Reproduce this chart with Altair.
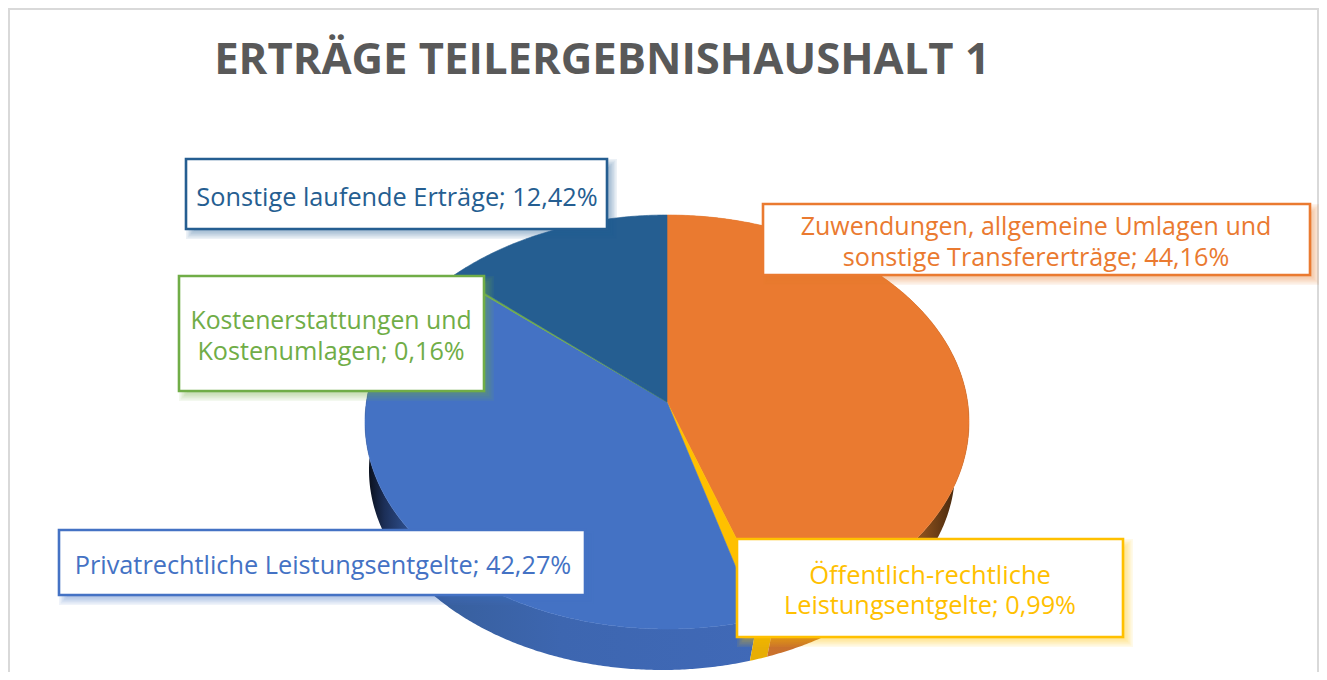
import math
import altair as alt

# ---- values ----
names = ["Zuwendungen, allgemeine Umlagen und sonstige Transfererträge",
         "Öffentlich-rechtliche Leistungsentgelte",
         "Privatrechtliche Leistungsentgelte",
         "Kostenerstattungen und Kostenumlagen",
         "Sonstige laufende Erträge"]
shares = [44.16, 0.99, 42.27, 0.16, 12.42]
colors = ["#EA7A30", "#FFC000", "#4472C4", "#70AD47", "#255E91"]

title_text = "ERTRÄGE TEILERGEBNISHAUSHALT 1"
label_lines = [
    ["Zuwendungen,  allgemeine Umlagen und", "sonstige Transfererträge; 44,16%"],
    ["Öffentlich-rechtliche", "Leistungsentgelte; 0,99%"],
    ["Privatrechtliche Leistungsentgelte; 42,27%"],
    ["Kostenerstattungen und", "Kostenumlagen; 0,16%"],
    ["Sonstige laufende Erträge; 12,42%"],
]
# ---- layout (page pixels) ----
OX, OY = 8, 8
W, H = 1311, 664
boxes = [(763, 204, 1310, 275), (737, 539, 1123, 637), (59, 530, 585, 595),
         (179, 276, 484, 391), (186, 159, 607, 229)]
line_y = [[227, 258], [576, 606], [566], [322, 352], [197.5]]
line_x = [1036, 930, 323, 331, 397]
line_size = [[25, 25.2], [25.5, 25.3], [25.3], [24.8, 25.2], [25.3]]

APEX = (667, 402)
TOP = (667, 422, 302, 207)
BOT = (662, 470, 293, 200)


def rim(e, t0, t1):
    n = max(2, int(abs(t1 - t0)) * 2)
    out = []
    for i in range(n + 1):
        t = math.radians(t0 + (t1 - t0) * i / n)
        out.append([e[0] + e[2] * math.sin(t) - OX, e[1] - e[3] * math.cos(t) - OY])
    return out


def feature(ring, **props):
    ring = list(ring) + [ring[0]]
    return {"type": "Feature", "properties": props,
            "geometry": {"type": "Polygon", "coordinates": [ring]}}


def rect(x0, y0, x1, y1):
    return [[x0 - OX, y0 - OY], [x1 - OX, y0 - OY], [x1 - OX, y1 - OY], [x0 - OX, y1 - OY]]


spans = []
acc = 0.0
for s in shares:
    spans.append((acc * 3.6, (acc + s) * 3.6))
    acc += s

tops = [feature([[APEX[0] - OX, APEX[1] - OY]] + rim(TOP, a, b), color=c)
        for (a, b), c in zip(spans, colors)]
walls = [feature(rim(TOP, a, b) + rim(BOT, b, a)) for a, b in spans]


def geo(feats, **kw):
    return alt.Chart(alt.Data(values=feats)).mark_geoshape(**kw).project(
        type="identity", scale=1, translate=[0, 0])


grad = lambda stops: alt.Gradient(gradient="linear", x1=0, x2=1, y1=0, y2=0,
                                  stops=[alt.GradientStop(offset=o, color=c) for o, c in stops])

layers = []
# frame
layers.append(geo([feature([[0, 0], [W, 0], [W, H], [0, H]])], fill="white", stroke="transparent", strokeWidth=0))
layers.append(geo([feature([[0, 0], [2, 0], [2, H], [0, H]]),
                   feature([[0, 0], [W, 0], [W, 2], [0, 2]]),
                   feature([[W - 2, 0], [W, 0], [W, H], [W - 2, H]])],
                  fill="#D9D9D9", stroke="transparent", strokeWidth=0))
# walls
layers.append(geo([walls[2]], strokeWidth=0, stroke="transparent",
                  fill=grad([(0, "#06090F"), (0.05, "#1C2F58"), (0.1, "#2B4A85"),
                             (0.22, "#38609F"), (0.5, "#3D66B0"), (1, "#4069B7")])))
layers.append(geo([walls[1]], fill="#E8AE05", stroke="transparent", strokeWidth=0))
layers.append(geo([walls[0]], strokeWidth=0, stroke="transparent",
                  fill=grad([(0, "#D2762F"), (0.7, "#C26C2A"), (0.85, "#8A4F1C"),
                             (0.95, "#4A2A0E"), (1, "#2A1806")])))
# top face
layers.append(geo(tops, strokeWidth=0.6).encode(
    fill=alt.Color("properties.color:N", scale=None),
    stroke=alt.Color("properties.color:N", scale=None)))
# boxes with soft shadows
shadow = []
box_feats = []
for (x0, y0, x1, y1), c in zip(boxes, colors):
    for k in range(6):
        g = 5 - k * 1.6
        shadow.append(feature(rect(x0 + 5 - g, y0 + 5 - g, x1 + 5 + g, y1 + 5 + g), color=c))
    box_feats.append(feature(rect(x0, y0, x1, y1), color=c))
layers.append(geo(shadow, strokeWidth=0, stroke="transparent", opacity=0.085).encode(
    fill=alt.Color("properties.color:N", scale=None)))
layers.append(geo(box_feats, strokeWidth=2.6, fill="white").encode(
    stroke=alt.Color("properties.color:N", scale=None)))

# text
text_rows = []
for lines, ys, xc, sizes, c in zip(label_lines, line_y, line_x, line_size, colors):
    for t, y, sz in zip(lines, ys, sizes):
        text_rows.append({"t": t, "x": xc - OX, "y": y - OY, "s": sz, "c": c})
layers.append(alt.Chart(alt.Data(values=text_rows)).mark_text(
    font="Open Sans", align="center", baseline="middle").encode(
    x=alt.X("x:Q", scale=None, axis=None),
    y=alt.Y("y:Q", scale=None, axis=None),
    text="t:N",
    size=alt.Size("s:Q", scale=None, legend=None),
    color=alt.Color("c:N", scale=None)))
layers.append(alt.Chart(alt.Data(values=[{"t": title_text, "x": 602 - OX, "y": 60.5 - OY}])).mark_text(
    font="Open Sans", fontWeight="bold", fontSize=43.6, color="#595959", align="center", baseline="middle").encode(
    x=alt.X("x:Q", scale=None, axis=None),
    y=alt.Y("y:Q", scale=None, axis=None),
    text="t:N"))

chart = alt.layer(*layers).properties(
    width=W, height=H, padding=0, background="white",
    autosize=alt.AutoSizeParams(type="none")
).configure_view(stroke=None)

chart.save("out.html", embed_options={"renderer": "svg", "actions": False})
